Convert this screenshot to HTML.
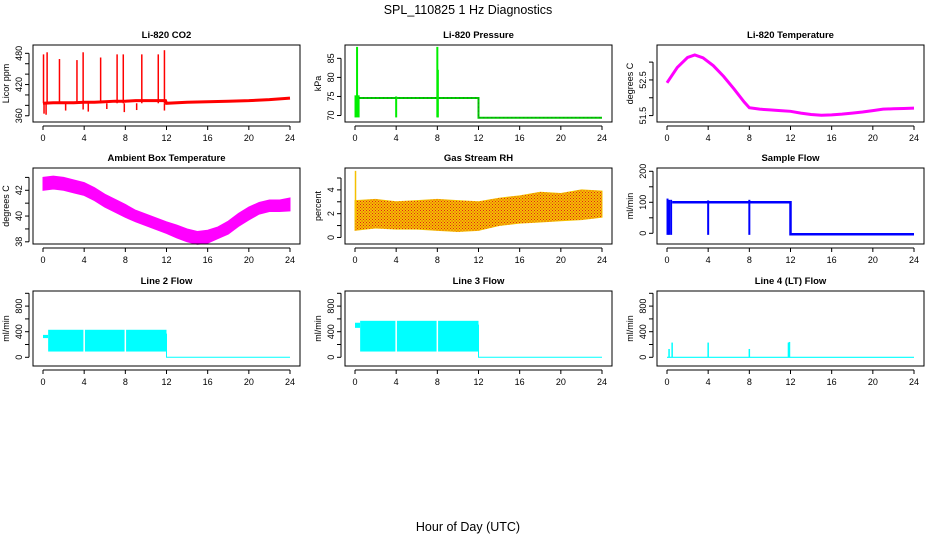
<!DOCTYPE html>
<html><head><meta charset="utf-8"><style>
body{margin:0;background:#fff}
svg{display:block;font-family:"Liberation Sans",sans-serif}
</style></head><body>
<svg id="c" width="936" height="540" viewBox="0 0 936 540">
<defs>
<pattern id="rhdots" width="3" height="3" patternUnits="userSpaceOnUse"><rect x="0" y="0" width="1" height="1" fill="#e0201a"/><rect x="1.5" y="1.5" width="1" height="1" fill="#e0201a"/></pattern>
</defs>
<text x="468" y="14" text-anchor="middle" font-size="12.5">SPL_110825  1 Hz Diagnostics</text>
<text x="468" y="531" text-anchor="middle" font-size="12.5">Hour of Day (UTC)</text>
</svg>
<script>
// ---- data ----
const xTicks=[0,4,8,12,16,20,24];
const co2Hours=[0,1,2,3,4,5,6,7,8,9,10,11,11.9,12,14,16,18,20,22,24];
const co2Vals=[384,385,385,385,386,386,387,388,388,389,389,389,389,384,386,387,388,389,391,394];
const co2SpikeHours=[0.05,0.4,1.6,3.3,3.9,5.6,7.2,7.8,9.6,11.2,11.8];
const co2SpikeTops=[478,482,469,467,482,472,478,478,478,478,486];
const co2DipHours=[0.1,0.3,2.2,3.9,4.4,6.2,7.9,9.1,11.8];
const co2DipLows=[364,362,370,372,368,373,367,371,370];
const presHours=[0.4,12,12,24];
const presVals=[74.6,74.6,69.4,69.4];
const presSpikeHours=[0.05,0.2,0.35,4,8,8.05];
const presSpikeLow=[69.5,69.5,69.5,69.5,69.5,69.5];
const presSpikeHigh=[75.3,88,75.3,75,88,82];
const tempHours=[0,1,2,2.7,3.5,4.5,5.5,6.5,7.5,8,9,10,11,12,13,14,15,16,17,18,19,20,21,22,23,24];
const tempVals=[52.42,52.85,53.13,53.2,53.12,52.9,52.6,52.25,51.88,51.72,51.68,51.66,51.64,51.62,51.57,51.53,51.51,51.52,51.54,51.57,51.6,51.64,51.68,51.69,51.7,51.71];
const ambHours=[0,1,2,3,4,5,6,7,8,9,10,11,12,13,14,15,16,17,18,19,20,21,22,23,24];
const ambMid=[42.5,42.6,42.5,42.3,42.1,41.7,41.2,40.8,40.4,40.0,39.7,39.4,39.1,38.8,38.5,38.3,38.4,38.7,39.1,39.7,40.2,40.6,40.8,40.8,40.9];
const ambHalf=[0.5,0.5,0.5,0.5,0.5,0.5,0.5,0.5,0.5,0.45,0.45,0.45,0.45,0.5,0.5,0.5,0.5,0.45,0.5,0.5,0.5,0.45,0.45,0.45,0.5];
const rhHours=[0,2,4,6,8,10,12,14,16,18,20,22,24];
const rhLow=[0.6,0.8,0.7,0.7,0.6,0.5,0.6,1.0,1.2,1.3,1.4,1.5,1.7];
const rhHigh=[3.1,3.2,3.0,3.1,3.2,3.1,3.0,3.3,3.5,3.8,3.7,4.0,3.9];
const flowHours=[0.5,12,12,24];
const flowVals=[100,100,-3,-3];
const flowSpikeHours=[0.05,0.2,0.4,4,8];
const flowSpikeLow=[-5,-5,-5,-5,-5];
const flowSpikeHigh=[112,108,108,106,108];
const l2Start=[0,0.5];const l2Low=[300,90];const l2High=[350,430];
const l3Start=[0,0.5];const l3Low=[460,90];const l3High=[540,570];
const blockEnds=[0.5,12];
const gapHours=[4,8];
const l4SpikeHours=[0.2,0.5,4,8,11.8,11.9];
const l4SpikeVals=[130,230,230,130,230,240];

// ---- layout ----
const NS="http://www.w3.org/2000/svg";
const svg=document.getElementById('c');
const colL=[33,345,657],colR=[300,612,924];
const rowT=[45,168,291],rowB=[122,244,366];
function mk(tag,attrs,parent){const e=document.createElementNS(NS,tag);for(const k in attrs)e.setAttribute(k,attrs[k]);(parent||svg).appendChild(e);return e;}

function panel(r,c,title,ylab,ymin,ymax,yt,ylbl,name){
  const L=colL[c],R=colR[c],T=rowT[r],B=rowB[r];
  const x0=L+10,x1=R-10;
  const g=mk('g',{});
  
  
  const sx=h=>x0+(h/24)*(x1-x0);
  const sy=v=>B-(v-ymin)/(ymax-ymin)*(B-T);
  const plot=mk('g',{},g);
  
  
  const fr=mk('rect',{x:L,y:T,width:R-L,height:B-T,fill:'none',stroke:'#000','stroke-width':1},g);
  
  
  const t=mk('text',{x:(L+R)/2,y:T-7,'text-anchor':'middle','font-size':9.5,'font-weight':'bold'},g);t.textContent=title;
  
  
  mk('line',{x1:sx(xTicks[0]),x2:sx(xTicks[xTicks.length-1]),y1:B+4,y2:B+4,stroke:'#000'},g);
  xTicks.forEach(h=>{mk('line',{x1:sx(h),x2:sx(h),y1:B+4,y2:B+8,stroke:'#000'},g);
    const tx=mk('text',{x:sx(h),y:B+19,'text-anchor':'middle','font-size':9},g);tx.textContent=h;
    
    });
  mk('line',{x1:L-4,x2:L-4,y1:sy(yt[0]),y2:sy(yt[yt.length-1]),stroke:'#000'},g);
  yt.forEach(v=>{mk('line',{x1:L-4,x2:L-8,y1:sy(v),y2:sy(v),stroke:'#000'},g);
    if(ylbl.includes(v)){const ty=mk('text',{x:0,y:0,'text-anchor':'middle','font-size':9,transform:`translate(${L-11},${sy(v)}) rotate(-90)`},g);ty.textContent=v;
    
    }});
  const yl=mk('text',{x:0,y:0,'text-anchor':'middle','font-size':9,transform:`translate(${L-24},${(T+B)/2}) rotate(-90)`},g);yl.textContent=ylab;
  
  
  return {sx,sy,g:plot};
}
function poly(p,hs,vs,col,w){return mk('polyline',{points:hs.map((h,i)=>p.sx(h)+','+p.sy(vs[i])).join(' '),fill:'none',stroke:col,'stroke-width':w},p.g);}
function vseg(p,h,a,b,col,w){return mk('line',{x1:p.sx(h),x2:p.sx(h),y1:p.sy(a),y2:p.sy(b),stroke:col,'stroke-width':w},p.g);}
function bandPts(p,hs,lo,hi){return hs.map((h,i)=>p.sx(h)+','+p.sy(hi[i])).concat(hs.slice().reverse().map((h,j)=>{const i=hs.length-1-j;return p.sx(h)+','+p.sy(lo[i]);})).join(' ');}
function band(p,hs,lo,hi,col){return mk('polygon',{points:bandPts(p,hs,lo,hi),fill:col,stroke:col,'stroke-width':1},p.g);}

// CO2
let p=panel(0,0,'Li-820 CO2','Licor ppm',348,496,[360,380,400,420,440,460,480],[360,420,480],'co2');
poly(p,co2Hours,co2Vals,'#f00',3);
co2SpikeHours.forEach((h,i)=>{const l=vseg(p,h,co2Vals[0],co2SpikeTops[i],'#f00',1.5);});
co2DipHours.forEach((h,i)=>{const l=vseg(p,h,384,co2DipLows[i],'#f00',1.5);});
// Pressure
p=panel(0,1,'Li-820 Pressure','kPa',68.3,88.5,[70,75,80,85],[70,75,80,85],'pressure');
poly(p,presHours,presVals,'#0c0',2);
presSpikeHours.forEach((h,i)=>vseg(p,h,presSpikeLow[i],presSpikeHigh[i],'#0e0',2));
poly(p,presHours,presVals,'#333',0.6).setAttribute('stroke-dasharray','1 3');
// Temperature
p=panel(0,2,'Li-820 Temperature','degrees C',51.32,53.48,[51.5,52,52.5,53],[51.5,52.5],'li820-temp');
poly(p,tempHours,tempVals,'#f0f',3);
// Ambient
p=panel(1,0,'Ambient Box Temperature','degrees C',37.83,43.73,[38,39,40,41,42,43],[38,40,42],'ambient-temp');
band(p,ambHours,ambMid.map((m,i)=>m-ambHalf[i]),ambMid.map((m,i)=>m+ambHalf[i]),'#f0f');
// RH
p=panel(1,1,'Gas Stream RH','percent',-0.55,5.84,[0,1,2,3,4,5],[0,2,4],'gas-rh');
band(p,rhHours,rhLow,rhHigh,'#f5c000');
mk('polygon',{points:bandPts(p,rhHours,rhLow,rhHigh),fill:'url(#rhdots)'},p.g);
vseg(p,0.05,1.5,5.6,'#f5c000',1.5);
// Sample flow
p=panel(1,2,'Sample Flow','ml/min',-34.5,210.6,[0,50,100,150,200],[0,100,200],'sample-flow');
poly(p,flowHours,flowVals,'#00f',2.5);
flowSpikeHours.forEach((h,i)=>vseg(p,h,flowSpikeLow[i],flowSpikeHigh[i],'#00f',2));
// Line flows
function linePanel(c,title,name,st,lo,hi){
  const q=panel(2,c,title,'ml/min',-136,1036,[0,200,400,600,800,1000],[0,400,800],name);
  st.forEach((s,i)=>{const r=mk('rect',{x:q.sx(s),y:q.sy(hi[i]),width:q.sx(blockEnds[i])-q.sx(s),height:q.sy(lo[i])-q.sy(hi[i]),fill:'#0ff'},q.g);
    });
  gapHours.forEach(h=>vseg(q,h,lo[1]-20,hi[1]+20,'#fff',1.5));
  poly(q,[12,12,24],[hi[1]-60,0,0],'#0ff',1);
  return q;
}
linePanel(0,'Line 2 Flow','line2-flow',l2Start,l2Low,l2High);
linePanel(1,'Line 3 Flow','line3-flow',l3Start,l3Low,l3High);
p=panel(2,2,'Line 4 (LT) Flow','ml/min',-136,1036,[0,200,400,600,800,1000],[0,400,800],'line4-flow');
poly(p,[0,24],[0,0],'#0ff',1.2);
l4SpikeHours.forEach((h,i)=>vseg(p,h,0,l4SpikeVals[i],'#0ff',1.5));
</script>
</body></html>
